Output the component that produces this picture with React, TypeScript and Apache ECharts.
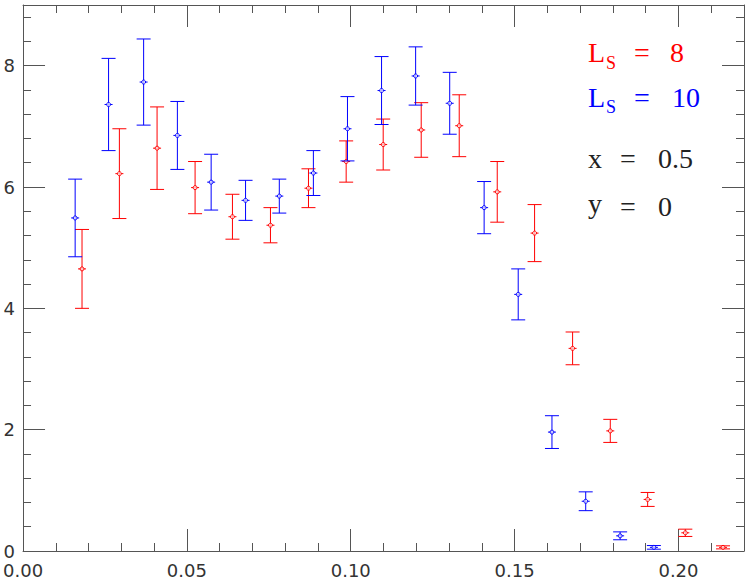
import React, { useEffect, useRef } from "react";
import * as echarts from "echarts";

// L_S = 8 (red)
const xL8 = [0.0180, 0.0294, 0.0409, 0.0525, 0.0639, 0.0755, 0.0871, 0.0986, 0.1099, 0.1215, 0.1331, 0.1447, 0.1561, 0.1677, 0.1792, 0.1906, 0.2021, 0.2136];
const yL8 = [4.65, 6.22, 6.64, 5.99, 5.51, 5.37, 5.98, 6.42, 6.70, 6.94, 7.01, 5.92, 5.24, 3.34, 1.98, 0.85, 0.30, 0.06];
const eL8 = [0.65, 0.74, 0.68, 0.43, 0.37, 0.29, 0.32, 0.34, 0.42, 0.45, 0.51, 0.50, 0.47, 0.27, 0.19, 0.115, 0.06, 0.025];

// L_S = 10 (blue)
const xL10 = [0.0159, 0.0261, 0.0368, 0.0471, 0.0574, 0.0679, 0.0782, 0.0886, 0.0990, 0.1094, 0.1198, 0.1302, 0.1407, 0.1511, 0.1614, 0.1717, 0.1822, 0.1925];
const yL10 = [5.49, 7.36, 7.73, 6.85, 6.08, 5.78, 5.85, 6.23, 6.96, 7.59, 7.83, 7.38, 5.66, 4.23, 1.96, 0.82, 0.25, 0.06];
const eL10 = [0.64, 0.76, 0.71, 0.56, 0.46, 0.33, 0.28, 0.37, 0.53, 0.56, 0.48, 0.51, 0.43, 0.42, 0.27, 0.155, 0.065, 0.03];

const X_MIN = 0;
const X_MAX = 0.22;
const X_MAJOR = 0.05;
const X_MINOR = 0.01;
const Y_MIN = 0;
const Y_MAX = 9;
const Y_MAJOR = 2;
const Y_MINOR = 0.4;

const RED = "#ff0000";
const BLUE = "#0000ff";
const AXIS_COLOR = "#555555";
const LABEL_FONT = "DejaVu Sans";
const TEX_FONT = "Liberation Serif";

function errorSeries(name: string, xs: number[], ys: number[], es: number[], color: string) {
  return {
    type: "custom",
    name,
    xAxisIndex: 0,
    yAxisIndex: 0,
    clip: false,
    data: xs.map((x, i) => [x, ys[i], es[i]]),
    encode: { x: 0, y: 1 },
    renderItem: (_params: any, api: any) => {
      const x = api.value(0);
      const y = api.value(1);
      const e = api.value(2);
      const c = api.coord([x, y]);
      const hi = api.coord([x, y + e]);
      const lo = api.coord([x, y - e]);
      const w = 7;
      const st = { stroke: color, lineWidth: 1, fill: "none" };
      return {
        type: "group",
        children: [
          { type: "line", shape: { x1: c[0], y1: hi[1], x2: c[0], y2: lo[1] }, style: st },
          { type: "line", shape: { x1: c[0] - w, y1: hi[1], x2: c[0] + w, y2: hi[1] }, style: st },
          { type: "line", shape: { x1: c[0] - w, y1: lo[1], x2: c[0] + w, y2: lo[1] }, style: st },
          { type: "line", shape: { x1: c[0] - 4, y1: c[1], x2: c[0] + 4, y2: c[1] }, style: st },
          { type: "circle", shape: { cx: c[0], cy: c[1], r: 2 }, style: { stroke: color, fill: "rgba(255,255,255,0.7)", lineWidth: 1 } },
        ],
      };
    },
  };
}

function isMult(v: number, step: number) {
  const k = v / step;
  return Math.abs(k - Math.round(k)) < 1e-6;
}

function xAxisDef(position: string, interval: number, len: number, labels: boolean, line: boolean) {
  return {
    type: "value",
    position,
    min: X_MIN,
    max: X_MAX,
    interval,
    axisLine: { show: line, onZero: false, lineStyle: { color: AXIS_COLOR, width: 1 } },
    axisTick: { show: true, inside: true, length: len, lineStyle: { color: AXIS_COLOR, width: 1 } },
    axisLabel: {
      show: labels,
      margin: 12,
      lineHeight: 14,
      color: "#333",
      fontFamily: LABEL_FONT,
      fontSize: 18,
      formatter: (v: number) => (isMult(v, X_MAJOR) ? v.toFixed(2) : ""),
    },
    splitLine: { show: false },
  };
}

function yAxisDef(position: string, interval: number, len: number, labels: boolean, line: boolean) {
  return {
    type: "value",
    position,
    min: Y_MIN,
    max: Y_MAX,
    interval,
    axisLine: { show: line, onZero: false, lineStyle: { color: AXIS_COLOR, width: 1 } },
    axisTick: { show: true, inside: true, length: len, lineStyle: { color: AXIS_COLOR, width: 1 } },
    axisLabel: {
      show: labels,
      margin: 8,
      lineHeight: 14,
      padding: [0, 0, 5, 0],
      color: "#333",
      fontFamily: LABEL_FONT,
      fontSize: 18,
      formatter: (v: number) => (isMult(v, Y_MAJOR) ? String(Math.round(v)) : ""),
    },
    splitLine: { show: false },
  };
}

function txt(text: string, x: number, y: number, size: number, color: string) {
  return {
    type: "text",
    x,
    y,
    style: {
      text,
      fill: color,
      fontFamily: TEX_FONT,
      fontSize: size,
      align: "left",
      verticalAlign: "middle",
    },
  };
}

export default function App() {
  const ref = useRef<HTMLDivElement>(null);
  useEffect(() => {
    if (!ref.current) return;
    const chart = echarts.init(ref.current, undefined, { renderer: "svg" });
    chart.setOption({
      animation: false,
      backgroundColor: "#ffffff",
      grid: { left: 23, right: 6, top: 5, bottom: 30, containLabel: false },
      xAxis: [
        xAxisDef("bottom", X_MINOR, 8, false, true),
        xAxisDef("bottom", X_MAJOR, 22, true, false),
        xAxisDef("top", X_MINOR, 8, false, true),
        xAxisDef("top", X_MAJOR, 22, false, false),
      ],
      yAxis: [
        yAxisDef("left", Y_MINOR, 8, false, true),
        yAxisDef("left", Y_MAJOR, 22, true, false),
        yAxisDef("right", Y_MINOR, 8, false, true),
        yAxisDef("right", Y_MAJOR, 22, false, false),
      ],
      series: [
        errorSeries("L_S = 8", xL8, yL8, eL8, RED),
        errorSeries("L_S = 10", xL10, yL10, eL10, BLUE),
      ],
      graphic: [
        txt("L", 588, 52, 28, RED),
        txt("S", 606, 63, 18, RED),
        txt("=", 634, 52, 28, RED),
        txt("8", 670, 52, 28, RED),
        txt("L", 588, 97, 28, BLUE),
        txt("S", 606, 107, 18, BLUE),
        txt("=", 634, 97, 28, BLUE),
        txt("10", 672, 97, 28, BLUE),
        txt("x", 588, 158, 28, "#222"),
        txt("=", 620, 158, 28, "#222"),
        txt("0.5", 658, 158, 28, "#222"),
        txt("y", 588, 203, 28, "#222"),
        txt("=", 620, 206, 28, "#222"),
        txt("0", 658, 206, 28, "#222"),
      ],
    });
    return () => chart.dispose();
  }, []);
  return <div ref={ref} style={{ position: "absolute", left: 0, top: 0, width: 750, height: 581 }} />;
}
